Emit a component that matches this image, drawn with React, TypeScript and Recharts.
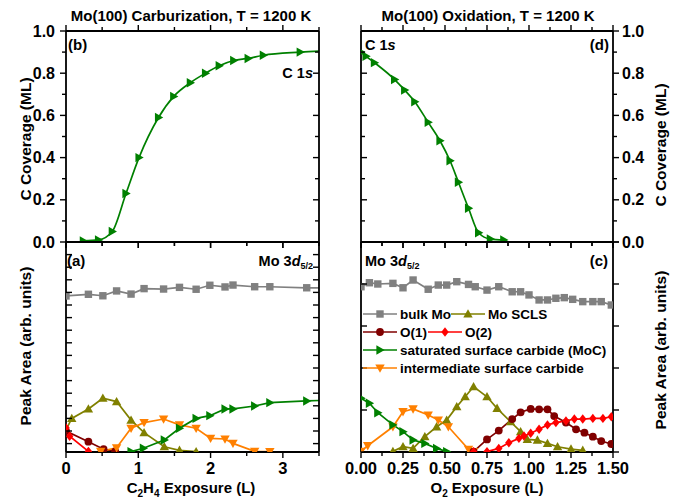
import { LineChart, Line, XAxis, YAxis } from "recharts"

const W = 674
const H = 502
const FONT = "'Liberation Sans', Arial, sans-serif"

const GRAY = "#808080"
const OLIVE = "#808000"
const DARKRED = "#800000"
const RED = "#ff0000"
const GREEN = "#008000"
const ORANGE = "#ff8000"

// (b) C 1s coverage during C2H4 exposure
const carbC1sX = [0.24, 0.45, 0.64, 0.83, 1.01, 1.28, 1.49, 1.72, 1.93, 2.12, 2.32, 2.52, 2.73, 3.24, 3.9]
const carbC1sY = [0.005, 0.01, 0.05, 0.23, 0.4, 0.59, 0.69, 0.755, 0.8, 0.835, 0.86, 0.87, 0.885, 0.9, 0.91]

// (a) Mo 3d5/2 components during C2H4 exposure
const carbBulkX = [0, 0.31, 0.51, 0.7, 0.9, 1.08, 1.35, 1.57, 1.8, 1.99, 2.2, 2.31, 2.61, 2.82, 3.33, 3.7]
const carbBulkY = [74.3, 75.1, 74.4, 76.7, 75.2, 77.8, 77.6, 78.4, 77.5, 79.4, 78.6, 79.5, 78.7, 78.7, 78.2, 78.2]
const carbSclsX = [0, 0.08, 0.31, 0.51, 0.7, 0.9, 1.08, 1.36, 1.57, 1.8]
const carbSclsY = [10.5, 16, 20.5, 25.6, 24, 15.2, 9.2, 2.5, 0.8, 0.2]
const carbO1X = [0, 0.31, 0.52, 0.68]
const carbO1Y = [10, 4.9, 1.3, 0.3]
const carbO2X = [0, 0.05, 0.31]
const carbO2Y = [11.5, 7.5, 0.3]
const carbSatX = [0.9, 1.07, 1.36, 1.57, 1.8, 1.99, 2.2, 2.31, 2.61, 2.82, 3.33, 3.7]
const carbSatY = [0.2, 1.8, 5.7, 11.3, 16, 17.3, 20.5, 20.5, 21.9, 23.5, 24.3, 24.8]
const carbInterX = [0.48, 0.7, 0.9, 1.08, 1.35, 1.57, 1.8, 2.0, 2.2, 2.31, 2.61, 2.82]
const carbInterY = [0.3, 2, 11.3, 14, 15.7, 12.9, 11.3, 6.5, 6.2, 4.1, 0.3, 0.2]

// (d) C 1s coverage during O2 exposure
const oxC1sX = [0, 0.03, 0.08, 0.2, 0.26, 0.32, 0.4, 0.47, 0.53, 0.58, 0.64, 0.7, 0.77, 0.85]
const oxC1sY = [0.9, 0.88, 0.85, 0.77, 0.72, 0.665, 0.567, 0.48, 0.385, 0.283, 0.16, 0.044, 0.014, 0.01]

// (c) Mo 3d5/2 components during O2 exposure
const oxBulkX = [0, 0.05, 0.1, 0.19, 0.25, 0.31, 0.4, 0.46, 0.51, 0.57, 0.64, 0.68, 0.75, 0.82, 0.9, 0.95, 1.0, 1.06, 1.11, 1.16, 1.21, 1.26, 1.32, 1.38, 1.43, 1.49]
const oxBulkY = [78.7, 80.6, 80, 80.3, 78.2, 81.9, 77.5, 79.5, 79.5, 81.1, 79.8, 78.7, 77.1, 78.7, 76.3, 76.3, 74.8, 72.4, 72.4, 73.2, 73.5, 72.7, 71.6, 71.6, 71.6, 70]
const oxSclsX = [0.19, 0.25, 0.31, 0.38, 0.45, 0.51, 0.57, 0.62, 0.67, 0.75, 0.81, 0.89, 0.95, 0.99, 1.05, 1.11, 1.17, 1.25, 1.32]
const oxSclsY = [0.3, 2.5, 1.7, 7.3, 12, 15.2, 21.6, 26.3, 31.1, 26.3, 20.8, 14.4, 9.7, 6, 5.7, 4.1, 2.5, 1.4, 0.8]
const oxO1X = [0.67, 0.75, 0.82, 0.9, 0.95, 1.01, 1.06, 1.11, 1.15, 1.22, 1.28, 1.33, 1.38, 1.43, 1.49]
const oxO1Y = [0.2, 6, 10.2, 15.7, 18.9, 20.5, 20.3, 20.3, 17.1, 14, 10.8, 9.2, 7.3, 5.2, 3.8]
const oxO2X = [0.67, 0.75, 0.82, 0.88, 0.94, 0.97, 1.01, 1.06, 1.11, 1.16, 1.22, 1.27, 1.32, 1.38, 1.44, 1.49]
const oxO2Y = [0.1, 0.2, 1.7, 4.4, 6.5, 7.6, 8.9, 10.8, 12.9, 14, 14.8, 15.7, 15.7, 16, 16, 16.8]
const oxSatX = [0, 0.05, 0.1, 0.19, 0.25, 0.31, 0.38, 0.45, 0.51]
const oxSatY = [25.6, 23.2, 18.7, 12.9, 9.7, 5.7, 4.1, 1.7, 0.2]
const oxInterX = [0, 0.04, 0.19, 0.25, 0.31, 0.4, 0.46, 0.52, 0.64, 0.67]
const oxInterY = [0.3, 3, 12, 19.2, 20.5, 17.6, 15.2, 12, 1.3, 0.2]

// tick positions
const carbTicks = [0, 0.5, 1, 1.5, 2, 2.5, 3, 3.5]
const oxTicks = [0, 0.125, 0.25, 0.375, 0.5, 0.625, 0.75, 0.875, 1, 1.125, 1.25, 1.375, 1.5]
const coverageTicks = [0, 0.1, 0.2, 0.3, 0.4, 0.5, 0.6, 0.7, 0.8, 0.9, 1]
const areaTicksA = [4, 10, 16, 22, 28, 34, 40, 46, 52, 58, 64, 70, 76, 82, 88, 94, 100]
const areaTicksC = [0, 20, 40, 60, 80, 100]

type Pt = { x: number; y: number }
const zip = (xs: number[], ys: number[]): Pt[] => xs.map((x, i) => ({ x, y: ys[i] }))

type MarkerKind = "square" | "up" | "down" | "right" | "circle" | "diamond"

function drawMarker(kind: MarkerKind, cx: number, cy: number, color: string, key?: any) {
  const s = 4.7
  switch (kind) {
    case "square":
      return <rect key={key} x={cx - 3.7} y={cy - 3.7} width={7.4} height={7.4} fill={color} />
    case "circle":
      return <circle key={key} cx={cx} cy={cy} r={3.9} fill={color} />
    case "up":
      return <polygon key={key} points={`${cx},${cy - s} ${cx - s},${cy + 3.6} ${cx + s},${cy + 3.6}`} fill={color} />
    case "down":
      return <polygon key={key} points={`${cx},${cy + s} ${cx - s},${cy - 3.6} ${cx + s},${cy - 3.6}`} fill={color} />
    case "right":
      return <polygon key={key} points={`${cx + s},${cy} ${cx - 3.6},${cy - s} ${cx - 3.6},${cy + s}`} fill={color} />
    case "diamond":
      return <polygon key={key} points={`${cx},${cy - s} ${cx + 3.7},${cy} ${cx},${cy + s} ${cx - 3.7},${cy}`} fill={color} />
  }
}

const markerDot = (kind: MarkerKind, color: string) => (p: any) => {
  if (p.cx == null || p.cy == null) return <g key={p.key} />
  return drawMarker(kind, p.cx, p.cy, color, p.key)
}

type Side = "bottom" | "top" | "left" | "right"
type AxisSpec = {
  domain: [number, number]
  ticks: number[]
  major: (v: number) => boolean
  out: boolean
  label?: (v: number) => string | null
  size?: number
}

const isMult = (v: number, m: number) => Math.abs(v / m - Math.round(v / m)) < 1e-6

// axes are 1px thick so recharts still draws them; the tick line starts on the frame
function makeTick(side: Side, spec: AxisSpec) {
  return (p: any) => {
    const v: number = p.payload?.value
    const len = (spec.major(v) ? 6 : 4) * (spec.out ? 1 : -1)
    const x = p.x
    const y = p.y
    const lab = spec.label ? spec.label(v) : null
    let x2 = x
    let y2 = y
    let tx = x
    let ty = y
    let anchor: "start" | "middle" | "end" = "middle"
    if (side === "bottom") { y2 = y + len; ty = y + 22 }
    if (side === "top") { y2 = y - len }
    if (side === "left") { x2 = x - len; tx = x - 11; ty = y + 5.5; anchor = "end" }
    if (side === "right") { x2 = x + len; tx = x + 9; ty = y + 5.5; anchor = "start" }
    return (
      <g key={p.index}>
        <line x1={x} y1={y} x2={x2} y2={y2} stroke="#000" strokeWidth={1.4} />
        {lab != null && (
          <text x={tx} y={ty} textAnchor={anchor} fontFamily={FONT} fontWeight={700} fontSize={spec.size ?? 16} fill="#000">
            {lab}
          </text>
        )}
      </g>
    )
  }
}

type Series = { name: string; data: Pt[]; color: string; marker: MarkerKind }

type PanelProps = {
  box: [number, number, number, number]
  xb: AxisSpec
  xt: AxisSpec
  yl: AxisSpec
  yr: AxisSpec
  series: Series[]
  smooth?: boolean
}

const AXIS_LINE = { stroke: "#000", strokeWidth: 1.8 }

function Panel({ box, xb, xt, yl, yr, series, smooth }: PanelProps) {
  const [left, top, right, bottom] = box
  const common = { allowDataOverflow: true, interval: 0 as const, tickSize: 0, tickMargin: 0, tickLine: false, axisLine: AXIS_LINE }
  return (
    <div style={{ position: "absolute", left: 0, top: 0 }}>
      <LineChart width={W} height={H} margin={{ left: left - 1, top: top - 1, right: W - right - 1, bottom: H - bottom - 1 }}>
        <XAxis xAxisId="b" type="number" dataKey="x" orientation="bottom" height={1} domain={xb.domain} ticks={xb.ticks} tick={makeTick("bottom", xb)} {...common} />
        <XAxis xAxisId="t" type="number" dataKey="x" orientation="top" height={1} domain={xt.domain} ticks={xt.ticks} tick={makeTick("top", xt)} {...common} />
        <YAxis yAxisId="l" type="number" orientation="left" width={1} domain={yl.domain} ticks={yl.ticks} tick={makeTick("left", yl)} {...common} />
        <YAxis yAxisId="r" type="number" orientation="right" width={1} domain={yr.domain} ticks={yr.ticks} tick={makeTick("right", yr)} {...common} />
        {series.map((s) => (
          <Line
            key={s.name}
            xAxisId="b"
            yAxisId="l"
            data={s.data}
            dataKey="y"
            type={smooth ? "monotone" : "linear"}
            stroke={s.color}
            strokeWidth={1.7}
            dot={markerDot(s.marker, s.color)}
            activeDot={false}
            isAnimationActive={false}
          />
        ))}
      </LineChart>
    </div>
  )
}

const carbX = (out: boolean, label: boolean): AxisSpec => ({
  domain: [0, 3.5],
  ticks: carbTicks,
  major: (v) => isMult(v, 1),
  out,
  size: 16.5,
  label: label ? (v) => (isMult(v, 1) ? String(v) : null) : undefined,
})
const oxX = (out: boolean, label: boolean): AxisSpec => ({
  domain: [0, 1.5],
  ticks: oxTicks,
  major: (v) => isMult(v, 0.25),
  out,
  size: 16.5,
  label: label ? (v) => (isMult(v, 0.25) ? v.toFixed(2) : null) : undefined,
})
const covY = (out: boolean, label: boolean): AxisSpec => ({
  domain: [0, 1],
  ticks: coverageTicks,
  major: (v) => isMult(v, 0.2),
  out,
  size: 16,
  label: label ? (v) => (isMult(v, 0.2) ? v.toFixed(1) : null) : undefined,
})
const areaY = (ticks: number[], out: boolean): AxisSpec => ({
  domain: [0, 100],
  ticks,
  major: () => true,
  out,
})

const carbSeries: Series[] = [
  { name: "bulk", data: zip(carbBulkX, carbBulkY), color: GRAY, marker: "square" },
  { name: "scls", data: zip(carbSclsX, carbSclsY), color: OLIVE, marker: "up" },
  { name: "o1", data: zip(carbO1X, carbO1Y), color: DARKRED, marker: "circle" },
  { name: "o2", data: zip(carbO2X, carbO2Y), color: RED, marker: "diamond" },
  { name: "inter", data: zip(carbInterX, carbInterY), color: ORANGE, marker: "down" },
  { name: "sat", data: zip(carbSatX, carbSatY), color: GREEN, marker: "right" },
]

const oxSeries: Series[] = [
  { name: "bulk", data: zip(oxBulkX, oxBulkY), color: GRAY, marker: "square" },
  { name: "scls", data: zip(oxSclsX, oxSclsY), color: OLIVE, marker: "up" },
  { name: "inter", data: zip(oxInterX, oxInterY), color: ORANGE, marker: "down" },
  { name: "sat", data: zip(oxSatX, oxSatY), color: GREEN, marker: "right" },
  { name: "o1", data: zip(oxO1X, oxO1Y), color: DARKRED, marker: "circle" },
  { name: "o2", data: zip(oxO2X, oxO2Y), color: RED, marker: "diamond" },
]

const legendItems = [
  { label: "bulk Mo", color: GRAY, marker: "square" as MarkerKind, x: 363, y: 314 },
  { label: "Mo SCLS", color: OLIVE, marker: "up" as MarkerKind, x: 451, y: 314 },
  { label: "O(1)", color: DARKRED, marker: "circle" as MarkerKind, x: 363, y: 332 },
  { label: "O(2)", color: RED, marker: "diamond" as MarkerKind, x: 428, y: 332 },
  { label: "saturated surface carbide (MoC)", color: GREEN, marker: "right" as MarkerKind, x: 363, y: 350 },
  { label: "intermediate surface carbide", color: ORANGE, marker: "down" as MarkerKind, x: 363, y: 368 },
]

const T = { fontFamily: FONT, fontWeight: 700, fill: "#000" }

function Labels() {
  return (
    <svg width={W} height={H} style={{ position: "absolute", left: 0, top: 0, pointerEvents: "none" }}>
      <text {...T} x={191} y={21} fontSize={15} textAnchor="middle">Mo(100) Carburization, T = 1200 K</text>
      <text {...T} x={488} y={21} fontSize={15} textAnchor="middle">Mo(100) Oxidation, T = 1200 K</text>

      <text {...T} fontSize={15.5} textAnchor="middle" transform="translate(31,139) rotate(-90)">C Coverage (ML)</text>
      <text {...T} fontSize={15.5} textAnchor="middle" transform="translate(31,346) rotate(-90)">Peak Area (arb. units)</text>
      <text {...T} fontSize={15.5} textAnchor="middle" transform="translate(666,145) rotate(-90)">C Coverage (ML)</text>
      <text {...T} fontSize={15.5} textAnchor="middle" transform="translate(666,350) rotate(-90)">Peak Area (arb. units)</text>

      <text {...T} x={191} y={493} fontSize={15} textAnchor="middle">
        C<tspan fontSize={10} dy={4}>2</tspan><tspan dy={-4}>H</tspan><tspan fontSize={10} dy={4}>4</tspan><tspan dy={-4}> Exposure (L)</tspan>
      </text>
      <text {...T} x={487} y={493} fontSize={15} textAnchor="middle">
        O<tspan fontSize={10} dy={4}>2</tspan><tspan dy={-4}> Exposure (L)</tspan>
      </text>

      <text {...T} x={68} y={50} fontSize={15}>(b)</text>
      <text {...T} x={313} y={78} fontSize={14.5} textAnchor="end">C 1<tspan fontStyle="italic">s</tspan></text>
      <text {...T} x={609} y={50} fontSize={15} textAnchor="end">(d)</text>
      <text {...T} x={365} y={50} fontSize={14.5}>C 1<tspan fontStyle="italic">s</tspan></text>

      <text {...T} x={67} y={266} fontSize={15}>(a)</text>
      <text {...T} x={313} y={266} fontSize={14.5} textAnchor="end">
        Mo 3<tspan fontStyle="italic">d</tspan><tspan fontSize={9} dy={3}>5/2</tspan>
      </text>
      <text {...T} x={608} y={266} fontSize={15} textAnchor="end">(c)</text>
      <text {...T} x={365} y={266} fontSize={14.5}>
        Mo 3<tspan fontStyle="italic">d</tspan><tspan fontSize={9} dy={3}>5/2</tspan>
      </text>

      {legendItems.map((it) => (
        <g key={it.label}>
          <line x1={it.x} y1={it.y} x2={it.x + 34} y2={it.y} stroke={it.color} strokeWidth={1.7} />
          {drawMarker(it.marker, it.x + 17, it.y, it.color)}
          <text {...T} x={it.x + 37} y={it.y + 5} fontSize={13.5}>{it.label}</text>
        </g>
      ))}
    </svg>
  )
}

export default function App() {
  return (
    <div style={{ position: "absolute", left: 0, top: 0, width: W, height: H, background: "#fff" }}>
      <Panel
        box={[66, 31, 319, 242]}
        xb={carbX(true, false)}
        xt={carbX(true, false)}
        yl={covY(true, true)}
        yr={covY(false, false)}
        series={[{ name: "c1s", data: zip(carbC1sX, carbC1sY), color: GREEN, marker: "right" }]}
        smooth
      />
      <Panel
        box={[66, 242, 319, 452]}
        xb={carbX(true, true)}
        xt={carbX(false, false)}
        yl={areaY(areaTicksA, false)}
        yr={areaY(areaTicksA, false)}
        series={carbSeries}
      />
      <Panel
        box={[361, 31, 613, 242]}
        xb={oxX(true, false)}
        xt={oxX(true, false)}
        yl={covY(false, false)}
        yr={covY(true, true)}
        series={[{ name: "c1s", data: zip(oxC1sX, oxC1sY), color: GREEN, marker: "right" }]}
        smooth
      />
      <Panel
        box={[361, 242, 613, 452]}
        xb={oxX(true, true)}
        xt={oxX(false, false)}
        yl={areaY(areaTicksC, false)}
        yr={areaY(areaTicksC, true)}
        series={oxSeries}
      />
      <Labels />
    </div>
  )
}
